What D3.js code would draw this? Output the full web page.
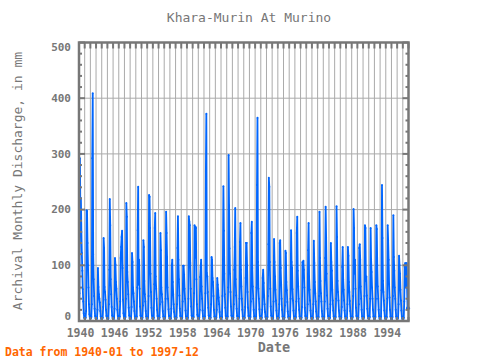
<!DOCTYPE html>
<html>
<head>
<meta charset="utf-8">
<script src="https://cdn.jsdelivr.net/npm/d3@7"></script>
<style>
  body { margin: 0; background: #fff; }
  text { font-family: "DejaVu Sans Mono", monospace; }
</style>
</head>
<body>
<div id="chart"></div>
<script>
var width = 480, height = 360;
var plot = {left: 79, right: 408.5, top: 42.5, bottom: 321};

var startYear = 1940;
var yearTicks = [1940, 1946, 1952, 1958, 1964, 1970, 1976, 1982, 1988, 1994];
var valueTicks = [0, 100, 200, 300, 400, 500];

// monthly discharge in mm, one row per year, Jan..Dec
var discharge = [
  8, 50, 292, 175, 221, 160, 122, 90, 57, 35, 14, 6,      // 1940
  5, 4, 6, 18, 199, 197, 140, 100, 60, 30, 12, 5,         // 1941
  4, 5, 7, 30, 292, 409, 120, 75, 45, 22, 9, 5,           // 1942
  4, 3, 5, 20, 95, 61, 48, 40, 33, 18, 8, 4,
  3, 4, 6, 25, 149, 131, 61, 52, 38, 20, 9, 5,
  4, 3, 5, 30, 92, 219, 172, 75, 48, 25, 10, 5,           // 1945
  4, 3, 6, 22, 113, 101, 70, 58, 40, 20, 9, 4,
  4, 4, 8, 35, 113, 133, 151, 162, 95, 38, 14, 6,
  5, 4, 7, 40, 212, 187, 88, 70, 48, 24, 10, 5,
  4, 3, 6, 25, 122, 106, 60, 50, 35, 18, 8, 4,
  4, 5, 8, 60, 163, 241, 65, 110, 58, 26, 10, 5,          // 1950
  4, 3, 6, 28, 145, 133, 72, 48, 35, 18, 8, 4,
  4, 4, 7, 45, 226, 223, 167, 85, 52, 24, 10, 5,
  4, 3, 6, 66, 167, 194, 80, 58, 40, 20, 9, 4,
  4, 4, 6, 30, 158, 127, 60, 48, 34, 18, 8, 4,
  3, 4, 7, 40, 196, 158, 115, 60, 40, 21, 9, 5,           // 1955
  4, 3, 5, 22, 100, 110, 70, 48, 30, 16, 7, 4,
  4, 3, 6, 30, 131, 188, 110, 75, 46, 22, 9, 5,
  4, 4, 6, 35, 99, 99, 83, 58, 40, 19, 8, 4,
  4, 3, 6, 40, 188, 178, 172, 104, 58, 26, 10, 5,
  4, 4, 7, 50, 172, 113, 169, 167, 75, 30, 11, 5,         // 1960
  4, 3, 6, 20, 79, 97, 110, 62, 40, 19, 8, 4,
  4, 4, 8, 50, 268, 372, 86, 80, 52, 24, 10, 5,
  4, 3, 6, 30, 115, 110, 77, 70, 45, 20, 8, 4,
  3, 4, 6, 20, 77, 65, 55, 42, 30, 16, 7, 4,
  4, 3, 7, 45, 110, 242, 162, 85, 48, 24, 9, 5,           // 1965
  4, 4, 8, 60, 298, 208, 130, 85, 52, 26, 10, 5,
  4, 3, 6, 30, 92, 133, 203, 75, 46, 22, 9, 4,
  4, 4, 7, 40, 142, 176, 92, 62, 40, 20, 8, 4,
  3, 4, 6, 25, 77, 140, 140, 100, 52, 24, 9, 5,
  4, 3, 7, 35, 158, 178, 95, 62, 40, 20, 8, 4,            // 1970
  4, 4, 8, 60, 244, 365, 106, 58, 40, 21, 9, 5,
  4, 3, 6, 20, 77, 92, 68, 46, 30, 16, 7, 4,
  4, 4, 7, 45, 138, 257, 241, 106, 58, 26, 10, 5,
  4, 3, 6, 35, 147, 106, 80, 56, 37, 19, 8, 4,
  4, 3, 6, 30, 140, 145, 95, 66, 40, 20, 8, 4,            // 1975
  3, 4, 6, 28, 126, 122, 70, 55, 34, 17, 7, 4,
  4, 3, 7, 40, 163, 106, 95, 57, 37, 19, 8, 4,
  4, 4, 7, 35, 158, 187, 90, 62, 40, 20, 8, 5,
  4, 3, 6, 25, 106, 92, 108, 92, 60, 24, 9, 4,
  4, 4, 6, 30, 127, 176, 80, 56, 37, 19, 8, 4,            // 1980
  4, 3, 6, 30, 144, 104, 70, 50, 35, 17, 7, 4,
  4, 4, 7, 45, 196, 113, 72, 50, 35, 18, 8, 4,
  4, 3, 7, 35, 113, 205, 150, 85, 46, 22, 9, 5,
  4, 4, 6, 30, 140, 106, 90, 56, 37, 19, 8, 4,
  4, 3, 7, 40, 206, 151, 72, 52, 37, 19, 8, 4,            // 1985
  4, 4, 6, 25, 97, 133, 75, 56, 37, 19, 8, 4,
  4, 3, 6, 30, 133, 117, 70, 52, 36, 18, 8, 4,
  4, 4, 7, 45, 201, 167, 85, 110, 58, 24, 9, 5,
  4, 3, 6, 30, 131, 138, 110, 62, 40, 20, 8, 4,
  4, 4, 7, 45, 172, 167, 72, 80, 46, 22, 9, 5,            // 1990
  4, 3, 7, 40, 167, 110, 88, 60, 40, 20, 8, 4,
  4, 4, 7, 40, 172, 165, 100, 62, 40, 20, 8, 4,
  4, 3, 8, 55, 244, 149, 72, 52, 37, 19, 8, 4,
  4, 4, 7, 40, 172, 145, 110, 66, 42, 20, 8, 4,
  4, 3, 7, 45, 190, 115, 90, 60, 40, 20, 8, 4,            // 1995
  4, 4, 6, 30, 117, 100, 85, 56, 37, 19, 8, 4,
  4, 3, 6, 35, 97, 104, 60, 85, 104, 60, 23, 23           // 1997
];

var grey = "#777777";
var gridGrey = "#aaaaaa";
var lineBlue = "#0066ff";

var data = discharge.map((v, i) => { return {t: startYear + i / 12, value: v}; });

var svg = d3.select("#chart").append("svg")
    .attr("width", width)
    .attr("height", height);

var x = d3.scaleLinear()
    .domain([startYear, startYear + discharge.length / 12])
    .range([plot.left, plot.right]);
var y = d3.scaleLinear()
    .domain([0, 500])
    .range([plot.bottom, plot.top]);

var allYears = d3.range(startYear, startYear + discharge.length / 12 + 1);

// grid
svg.append("g").selectAll("line")
    .data(allYears.slice(1, -1))
    .enter().append("line")
    .attr("x1", d => x(d)).attr("x2", d => x(d))
    .attr("y1", plot.top).attr("y2", plot.bottom)
    .attr("stroke", gridGrey).attr("stroke-width", 1);

svg.append("g").selectAll("line")
    .data(valueTicks.slice(1, -1))
    .enter().append("line")
    .attr("x1", plot.left).attr("x2", plot.right)
    .attr("y1", d => y(d)).attr("y2", d => y(d))
    .attr("stroke", gridGrey).attr("stroke-width", 1);

// series
var line = d3.line()
    .x(d => x(d.t))
    .y(d => y(d.value));

svg.append("path")
    .datum(data)
    .attr("fill", "none")
    .attr("stroke", lineBlue)
    .attr("stroke-width", 1.8)
    .attr("d", line);

svg.append("g").selectAll("circle")
    .data(data)
    .enter().append("circle")
    .attr("cx", d => x(d.t))
    .attr("cy", d => y(d.value))
    .attr("r", 1)
    .attr("fill", lineBlue);

svg.append("circle")
    .attr("cx", x(data[data.length - 1].t))
    .attr("cy", y(data[data.length - 1].value))
    .attr("r", 2)
    .attr("fill", lineBlue);

// inner ticks
var minor = d3.range(0, 501, 20);
svg.append("g").selectAll("line")
    .data(minor)
    .enter().append("line")
    .attr("x1", plot.left).attr("x2", d => plot.left + (d % 100 === 0 ? 6 : 3))
    .attr("y1", d => y(d)).attr("y2", d => y(d))
    .attr("stroke", grey).attr("stroke-width", 2);
svg.append("g").selectAll("line")
    .data(minor)
    .enter().append("line")
    .attr("x1", plot.right).attr("x2", d => plot.right - (d % 100 === 0 ? 6 : 3))
    .attr("y1", d => y(d)).attr("y2", d => y(d))
    .attr("stroke", grey).attr("stroke-width", 2);
svg.append("g").selectAll("line")
    .data(allYears)
    .enter().append("line")
    .attr("x1", d => x(d)).attr("x2", d => x(d))
    .attr("y1", plot.top).attr("y2", plot.top + 6)
    .attr("stroke", grey).attr("stroke-width", 2);
svg.append("g").selectAll("line")
    .data(allYears)
    .enter().append("line")
    .attr("x1", d => x(d)).attr("x2", d => x(d))
    .attr("y1", plot.bottom).attr("y2", plot.bottom - 4)
    .attr("stroke", grey).attr("stroke-width", 2);

// frame
svg.append("rect")
    .attr("x", plot.left).attr("y", plot.top)
    .attr("width", plot.right - plot.left)
    .attr("height", plot.bottom - plot.top)
    .attr("fill", "none")
    .attr("stroke", grey)
    .attr("stroke-width", 2.5);

// tick labels
svg.append("g").selectAll("text")
    .data(valueTicks)
    .enter().append("text")
    .attr("x", 71)
    .attr("y", d => Math.min(Math.max(y(d), 47), 316.5))
    .attr("dy", "0.35em")
    .attr("text-anchor", "end")
    .attr("font-size", 11)
    .attr("font-weight", "bold")
    .attr("fill", grey)
    .text(d => d);

svg.append("g").selectAll("text")
    .data(yearTicks)
    .enter().append("text")
    .attr("x", d => x(d) + 1.5)
    .attr("y", 337)
    .attr("text-anchor", "middle")
    .attr("font-size", 11.5)
    .attr("font-weight", "bold")
    .attr("fill", grey)
    .text(d => d);

// titles
svg.append("text")
    .attr("x", 249).attr("y", 22)
    .attr("text-anchor", "middle")
    .attr("font-size", 13)
    .attr("fill", grey)
    .text("Khara-Murin At Murino");

svg.append("text")
    .attr("x", 274).attr("y", 352)
    .attr("text-anchor", "middle")
    .attr("font-size", 13.5)
    .attr("font-weight", "bold")
    .attr("fill", grey)
    .text("Date");

svg.append("text")
    .attr("transform", "translate(22,181) rotate(-90)")
    .attr("text-anchor", "middle")
    .attr("font-size", 13)
    .attr("fill", grey)
    .text("Archival Monthly Discharge, in mm");

svg.append("text")
    .attr("x", 5).attr("y", 356)
    .attr("font-size", 11.5)
    .attr("font-weight", "bold")
    .attr("fill", "#ff6600")
    .text("Data from 1940-01 to 1997-12");
</script>
</body>
</html>
